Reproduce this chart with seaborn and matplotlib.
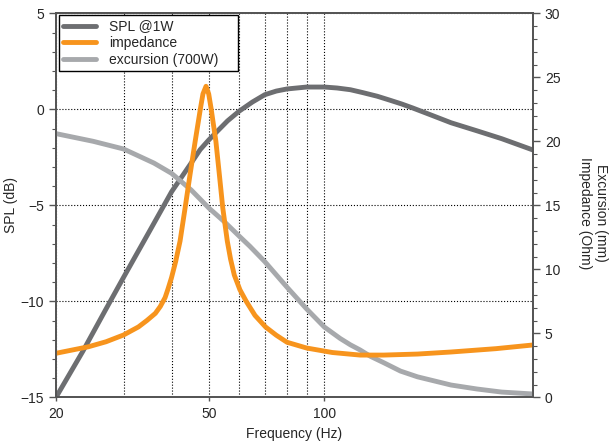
import matplotlib
matplotlib.use("Agg")
import matplotlib.pyplot as plt
import seaborn as sns
from matplotlib.ticker import MultipleLocator, NullFormatter

# values
spl_freq = [20, 23.5, 27, 30, 35, 40, 45, 47.5, 50, 52.6, 56, 60, 65, 70, 75, 80, 90, 100, 108, 117, 126,
            137.5, 148, 159, 170, 190, 214, 250, 290, 350]
spl_db = [-15.0, -12.6, -10.4, -8.75, -6.37, -4.3, -2.8, -2.1, -1.6, -1.15, -0.6, -0.1, 0.38, 0.76, 0.95,
          1.06, 1.16, 1.16, 1.11, 1.02, 0.87, 0.68, 0.48, 0.28, 0.07, -0.3, -0.7, -1.12, -1.53, -2.12]

imp_freq = [20, 24.3, 27, 30, 32.8, 34.5, 36.3, 37.4, 38.5, 39.2, 40.0, 41.0, 42.1, 43.4, 44.7, 46.1, 47.6,
            48.3, 49.2, 50.0, 50.7, 52.2, 53.3, 54.4, 55.9, 57.0, 58.3, 60.3, 62.7, 66, 70.3, 75, 80, 90,
            105, 124, 143, 175, 214, 280, 350]
imp_ohm = [3.44, 3.95, 4.34, 4.87, 5.5, 6.0, 6.56, 7.1, 7.8, 8.5, 9.35, 10.6, 12.2, 14.8, 17.4, 20.0, 22.6,
           23.7, 24.3, 23.7, 22.6, 20.0, 17.4, 14.8, 12.2, 10.8, 9.55, 8.4, 7.47, 6.4, 5.5, 4.85, 4.3, 3.85,
           3.5, 3.3, 3.3, 3.38, 3.54, 3.8, 4.09]

exc_freq = [20, 25, 30, 36, 40, 45, 50, 55, 60, 64, 70, 80, 90, 100, 110, 117, 124, 132, 143, 158, 175,
            214, 250, 290, 350]
exc_mm = [20.6, 20.0, 19.4, 18.3, 17.5, 16.2, 14.8, 13.7, 12.6, 11.8, 10.6, 8.6, 6.9, 5.5, 4.6, 4.1, 3.7,
          3.2, 2.7, 2.05, 1.6, 0.96, 0.65, 0.41, 0.26]

spl_color = "#6d6e71"
imp_color = "#f7941d"
exc_color = "#a7a9ac"

sns.set_style("ticks")
plt.rcParams["font.family"] = ["Liberation Sans", "DejaVu Sans"]
plt.rcParams["font.size"] = 10

fig = plt.figure(figsize=(6.16, 4.42), dpi=100)
ax = fig.add_axes([0.0909, 0.1011, 0.7744, 0.8688])

sns.lineplot(x=spl_freq, y=spl_db, ax=ax, color=spl_color, lw=3.5, label="SPL @1W", legend=False)
ax.set_xscale("log")
ax.set_xlim(20, 350)
ax.set_ylim(-15, 5)

ax2 = ax.twinx()
sns.lineplot(x=exc_freq, y=exc_mm, ax=ax2, color=exc_color, lw=3.5, label="excursion (700W)", legend=False)
sns.lineplot(x=imp_freq, y=imp_ohm, ax=ax2, color=imp_color, lw=3.5, label="impedance", legend=False)
ax2.set_ylim(0, 30)
ax2.set_xlim(20, 350)

# x ticks: labels at 20/50/100, grid lines 30..100
ax.set_xticks([20, 50, 100], labels=["20", "50", "100"])
ax.set_xticks([30, 40, 60, 70, 80, 90], minor=True)
ax.xaxis.set_minor_formatter(NullFormatter())
ax.tick_params(axis="x", which="major", length=3, width=1, color="#555555", pad=4, labelsize=10)
ax.tick_params(axis="x", which="minor", length=0)

ax.yaxis.set_major_locator(MultipleLocator(5))
ax.yaxis.set_minor_locator(MultipleLocator(1))
ax.tick_params(axis="y", which="major", length=5, width=1, color="#555555", labelsize=10)
ax.tick_params(axis="y", which="minor", length=3, width=0.8, color="#555555")

ax2.yaxis.set_major_locator(MultipleLocator(5))
ax2.yaxis.set_minor_locator(MultipleLocator(1))
ax2.tick_params(axis="y", which="major", length=5, width=1, color="#555555", labelsize=10)
ax2.tick_params(axis="y", which="minor", length=3, width=0.8, color="#555555")

ax.grid(True, axis="y", which="major", ls=":", color="black", lw=0.8)
ax.grid(True, axis="x", which="both", ls=":", color="black", lw=0.8)

for a in (ax, ax2):
    for s in a.spines.values():
        s.set_color("#555555")
        s.set_linewidth(1.3)

ax.set_xlabel("Frequency (Hz)", fontsize=10, labelpad=4)
ax.set_ylabel("SPL (dB)", fontsize=10, va="center")
ax.yaxis.set_label_coords(-0.094, 0.5)
ax2.set_ylabel("Excursion (mm)\nImpedance (Ohm)", fontsize=10, rotation=270, va="center", ha="center")
ax2.yaxis.set_label_coords(1.125, 0.48)

h1, l1 = ax.get_legend_handles_labels()
h2, l2 = ax2.get_legend_handles_labels()
handles = [h1[0], h2[1], h2[0]]
labels = [l1[0], l2[1], l2[0]]
leg = ax2.legend(handles, labels, loc="upper left", bbox_to_anchor=(0.006, 0.995, 0.375, 0), mode="expand",
                 fontsize=10, frameon=True, fancybox=False, framealpha=1, edgecolor="black",
                 borderaxespad=0, borderpad=0.3, labelspacing=0.2, handlelength=2.4, handletextpad=0.9)
leg.get_frame().set_linewidth(1.0)

fig.savefig("out.png", dpi=100)
